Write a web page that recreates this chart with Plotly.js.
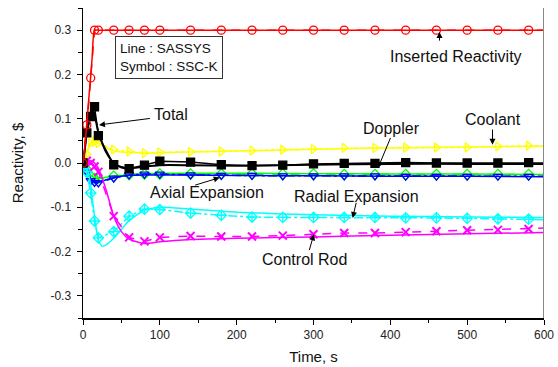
<!DOCTYPE html>
<html>
<head>
<meta charset="utf-8">
<script src="https://cdn.plot.ly/plotly-3.0.1.min.js"></script>
<style>html,body{margin:0;padding:0;background:#fff;}#chart{width:558px;height:367px;}</style>
</head>
<body>
<div id="chart"></div>
<script>
// SSC-K (symbols) time points, s
const timeK = [0,5,10,15,20,40,60,80,100,140,180,220,260,300,340,380,420,460,500,540,580,600];
const insertedK = [0,0.086,0.192,0.3,0.3,0.3,0.3,0.3,0.3,0.3,0.3,0.3,0.3,0.3,0.3,0.3,0.3,0.3,0.3,0.3,0.3,0.3];
const totalK = [0,0.068,0.105,0.127,0.062,-0.004,-0.013,-0.005,0.004,0.002,-0.004,-0.006,-0.005,-0.002,-0.001,-0.001,0.001,0,0,0,0.001,0];
const coolantK = [0,0.02,0.045,0.048,0.045,0.030,0.026,0.0225,0.024,0.025,0.026,0.028,0.030,0.0315,0.034,0.034,0.035,0.035,0.035,0.0375,0.039,0.039];
const dopplerK = [0,-0.015,-0.03,-0.035,-0.035,-0.03,-0.026,-0.025,-0.025,-0.025,-0.025,-0.025,-0.025,-0.025,-0.026,-0.026,-0.026,-0.026,-0.026,-0.026,-0.026,-0.026];
const axialK = [0,-0.02,-0.04,-0.044,-0.045,-0.034,-0.027,-0.025,-0.025,-0.027,-0.028,-0.028,-0.029,-0.029,-0.029,-0.029,-0.030,-0.030,-0.030,-0.030,-0.030,-0.030];
const radialK = [0,-0.02,-0.068,-0.131,-0.169,-0.155,-0.12,-0.104,-0.105,-0.113,-0.118,-0.122,-0.123,-0.123,-0.123,-0.123,-0.124,-0.124,-0.125,-0.126,-0.127,-0.128];
const controlK = [0,0.005,0,-0.008,-0.02,-0.12,-0.168,-0.177,-0.168,-0.165,-0.166,-0.166,-0.164,-0.161,-0.158,-0.158,-0.156,-0.154,-0.152,-0.151,-0.149,-0.147];

// SASSYS (lines) time points, s
const timeS = [0,2,5,8,10,12,15,20,25,30,40,50,60,80,100,140,200,300,400,500,600];
const insertedS = [0,0.03,0.09,0.155,0.195,0.24,0.3,0.3,0.3,0.3,0.3,0.3,0.3,0.3,0.3,0.3,0.3,0.3,0.3,0.3,0.3];
const totalS = [0,0.025,0.07,0.1,0.115,0.12,0.108,0.07,0.045,0.025,0.0,-0.01,-0.012,-0.008,-0.005,-0.005,-0.006,-0.004,-0.002,-0.002,-0.002];
const coolantS = [0,0.01,0.025,0.038,0.045,0.049,0.05,0.045,0.04,0.035,0.028,0.025,0.024,0.022,0.023,0.025,0.027,0.031,0.034,0.036,0.038];
const dopplerS = [0,-0.005,-0.012,-0.022,-0.028,-0.031,-0.033,-0.034,-0.033,-0.032,-0.03,-0.028,-0.026,-0.024,-0.023,-0.023,-0.023,-0.024,-0.025,-0.025,-0.026];
const axialS = [0,-0.006,-0.015,-0.028,-0.035,-0.039,-0.042,-0.043,-0.041,-0.038,-0.033,-0.03,-0.028,-0.027,-0.027,-0.027,-0.028,-0.029,-0.030,-0.030,-0.031];
const radialS = [0,-0.003,-0.01,-0.03,-0.05,-0.08,-0.12,-0.175,-0.188,-0.185,-0.17,-0.15,-0.13,-0.107,-0.1,-0.104,-0.111,-0.117,-0.12,-0.122,-0.123];
const controlS = [0,0.002,0.004,0.005,0.005,0.004,0.0,-0.012,-0.035,-0.06,-0.12,-0.155,-0.172,-0.182,-0.178,-0.173,-0.17,-0.167,-0.163,-0.16,-0.157];

const yTickVals = [-0.3,-0.2,-0.1,0.0,0.1,0.2,0.3];
const yTickText = ['-0.3','-0.2','-0.1','0.0','0.1','0.2','0.3'];
const xTickVals = [0,100,200,300,400,500,600];
const xTickText = ['0','100','200','300','400','500','600'];

const FONT = 'Arial, "Liberation Sans", sans-serif';

const series = [
  {name:'Doppler', s:dopplerS, k:dopplerK, color:'#00FF00', sym:'diamond-open', dash:'dash', w:1.5},
  {name:'Axial Expansion', s:axialS, k:axialK, color:'#0000FF', sym:'triangle-down-open', dash:'dashdot', w:1.5},
  {name:'Radial Expansion', s:radialS, k:radialK, color:'#00FFFF', sym:'diamond-cross-open', dash:'dashdot', w:1.5},
  {name:'Control Rod', s:controlS, k:controlK, color:'#FF00FF', sym:'x-thin-open', dash:'dash', w:1.5},
  {name:'Coolant', s:coolantS, k:coolantK, color:'#FFFF00', sym:'triangle-right-open', dash:'dot', w:1.5},
  {name:'Total', s:totalS, k:totalK, color:'#000000', sym:'square', dash:'solid', w:2},
  {name:'Inserted Reactivity', s:insertedS, k:insertedK, color:'#FF0000', sym:'circle-open', dash:'dash', w:1.5}
];

const traces = [];
series.forEach(sr => {
  traces.push({x:timeS, y:sr.s, type:'scatter', mode:'lines', name:sr.name+' SASSYS',
    line:{color:sr.color, width:sr.w, shape:'spline', smoothing:0.6}, showlegend:false, hoverinfo:'skip'});
  traces.push({x:timeK, y:sr.k, type:'scatter', mode:'lines+markers', name:sr.name+' SSC-K',
    line:{color:sr.color, width:1.5, dash:sr.dash},
    marker:{symbol:sr.sym, color:sr.color, opacity:1, size:timeK.map(t => t===600 ? 0 : 8),
      line:{color:sr.color, width:sr.sym==='x-thin-open' ? 2 : 1.3}},
    showlegend:false, hoverinfo:'skip'});
});

function arrow(tx, ty, hx, hy) {
  return {x:hx, y:hy, xref:'x', yref:'y', ax:tx, ay:ty, axref:'x', ayref:'y', text:'',
    showarrow:true, arrowhead:2, arrowsize:1.2, arrowwidth:1, arrowcolor:'#000', standoff:0, startstandoff:0};
}
function label(x, y, text) {
  return {x:x, y:y, xref:'x', yref:'y', text:text, showarrow:false, xanchor:'center', yanchor:'middle',
    font:{family:FONT, size:16, color:'#111'}};
}

const annotations = [
  label(485, 0.2398, 'Inserted Reactivity'),
  label(114, 0.109, 'Total'),
  label(533, 0.0975, 'Coolant'),
  label(402, 0.077, 'Doppler'),
  label(161, -0.066, 'Axial Expansion'),
  label(356, -0.076, 'Radial Expansion'),
  label(288.5, -0.218, 'Control Rod'),
  arrow(464, 0.273, 464, 0.296),
  arrow(89, 0.101, 20.8, 0.086),
  arrow(533, 0.079, 533, 0.041),
  arrow(401, 0.060, 384, -0.011),
  arrow(144, -0.051, 178, -0.033),
  arrow(356, -0.0865, 351, -0.124),
  arrow(294, -0.2, 300.5, -0.161),
  {x:112, y:0.238, xref:'x', yref:'y', text:'Line : SASSYS<br>Symbol : SSC-K', align:'left',
   showarrow:false, xanchor:'center', yanchor:'middle', bordercolor:'#333', borderwidth:1, borderpad:4,
   bgcolor:'#fff', font:{family:FONT, size:13.5, color:'#111'}}
];

const axisCommon = {showgrid:false, zeroline:false, showline:true, linecolor:'#000', linewidth:1.5,
  ticks:'outside', ticklen:5, tickwidth:1, tickcolor:'#000', tickfont:{family:FONT, size:12, color:'#222'}};

const layout = {
  width:558, height:367, margin:{l:83, r:14, t:8, b:49},
  paper_bgcolor:'#fff', plot_bgcolor:'#fff', showlegend:false,
  font:{family:FONT},
  xaxis:Object.assign({}, axisCommon, {range:[0,600], tickmode:'array', tickvals:xTickVals, ticktext:xTickText,
    minor:{ticks:'outside', tickvals:[50,150,250,350,450,550], ticklen:3, tickcolor:'#000'},
    title:{text:'Time, s', font:{family:FONT, size:15, color:'#111'}, standoff:10}}),
  yaxis:Object.assign({}, axisCommon, {range:[-0.35,0.35], tickmode:'array', tickvals:yTickVals, ticktext:yTickText,
    minor:{ticks:'outside', tickvals:[-0.35,-0.25,-0.15,-0.05,0.05,0.15,0.25,0.35], ticklen:4, tickcolor:'#000'},
    ticklabelstandoff:3,
    title:{text:'Reactivity, $', font:{family:FONT, size:15, color:'#111'}, standoff:23}}),
  shapes:[{type:'line', xref:'x', yref:'paper', x0:600, x1:600, y0:0, y1:1, line:{color:'#888', width:2}}],
  annotations:annotations
};

Plotly.newPlot('chart', traces, layout, {staticPlot:true, displayModeBar:false});
</script>
</body>
</html>
